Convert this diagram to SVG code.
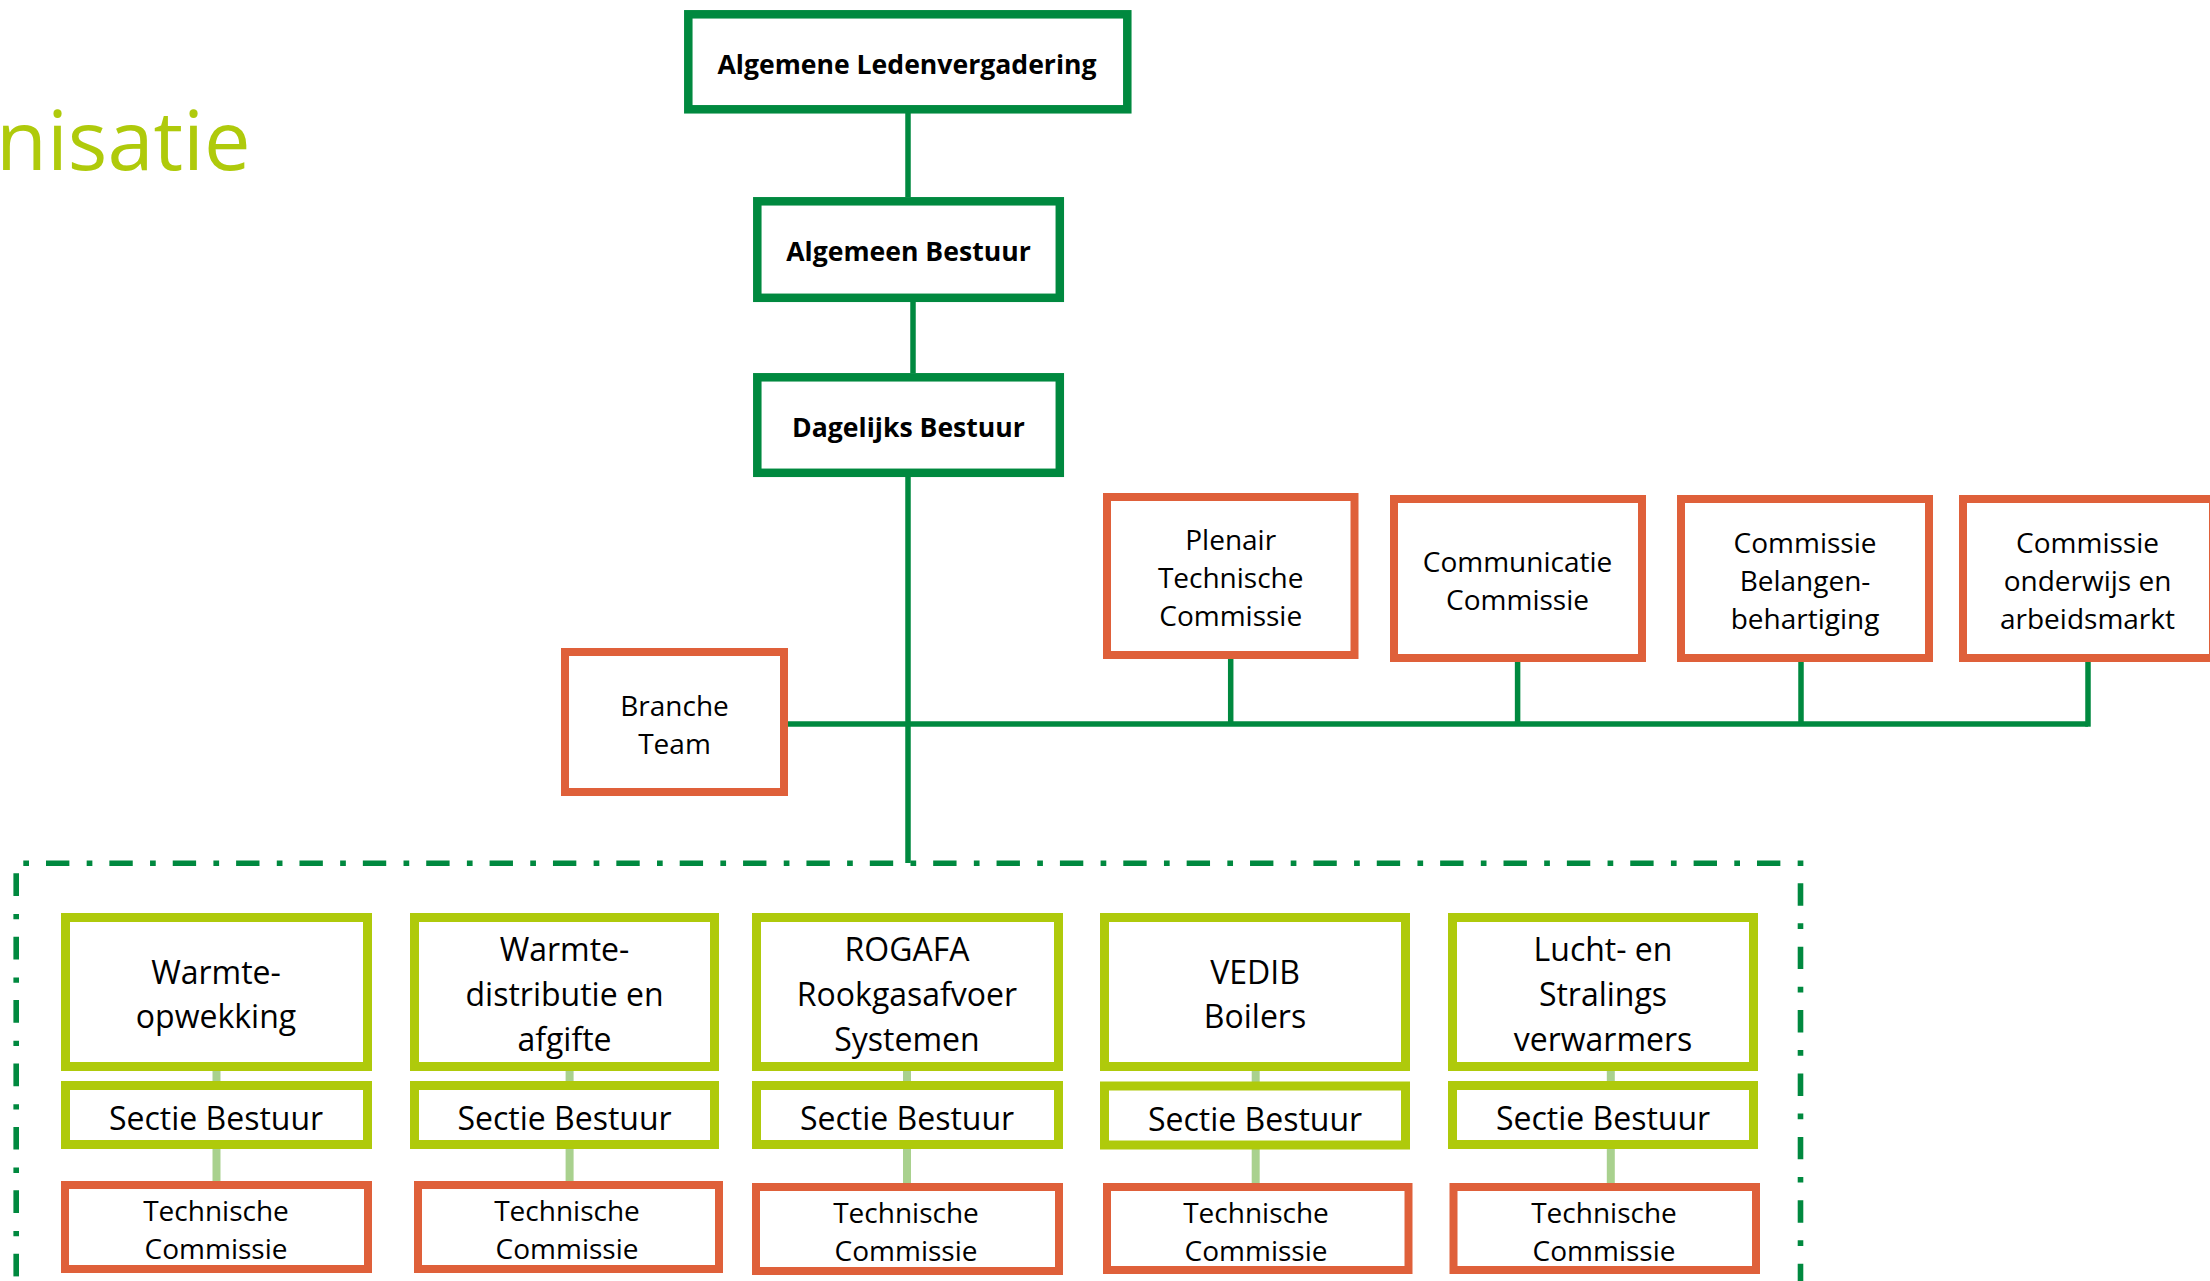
<svg xmlns="http://www.w3.org/2000/svg" width="2210" height="1281" viewBox="0 0 2210 1281">
<style>
  .dg{fill:#fff;stroke:#00893F;stroke-width:8.5}
  .or{fill:#fff;stroke:#DF603A;stroke-width:8}
  .lm{fill:#fff;stroke:#AFCA0B;stroke-width:9}
  .conn{stroke:#00893F;stroke-width:5.5;fill:none}
  .lconn{stroke:#A9D18E;stroke-width:8;fill:none}
  .dash{stroke:#00893F;stroke-width:5.6;fill:none}
  text{font-family:"Open Sans","Liberation Sans",sans-serif;fill:#000;text-anchor:middle}
  .b{font-weight:bold;font-size:26.6px}
  .t28{font-size:28px}
  .t32{font-size:32px}
  .title{fill:#AFCA0B;font-size:83px;text-anchor:start}
</style>
<rect width="2210" height="1281" fill="#fff"/>
<text class="title" x="-4" y="170">nisatie</text>

<g id="connectors">
  <line class="conn" x1="908" y1="113" x2="908" y2="197"/>
  <line class="conn" x1="913" y1="302" x2="913" y2="373"/>
  <line class="conn" x1="908" y1="477" x2="908" y2="863"/>
  <polyline class="conn" points="788,724 2088,724"/>
  <line class="conn" x1="1230.7" y1="659" x2="1230.7" y2="724"/>
  <line class="conn" x1="1517.6" y1="662" x2="1517.6" y2="724"/>
  <line class="conn" x1="1801" y1="662" x2="1801" y2="724"/>
  <line class="conn" x1="2088" y1="656" x2="2088" y2="726.7"/>
  <line class="lconn" x1="216.5" y1="1070" x2="216.5" y2="1082"/>
  <line class="lconn" x1="216.5" y1="1149" x2="216.5" y2="1182"/>
  <line class="lconn" x1="569.6" y1="1070" x2="569.6" y2="1082"/>
  <line class="lconn" x1="569.6" y1="1149" x2="569.6" y2="1182"/>
  <line class="lconn" x1="907" y1="1070" x2="907" y2="1082"/>
  <line class="lconn" x1="907" y1="1149" x2="907" y2="1184"/>
  <line class="lconn" x1="1255.7" y1="1071" x2="1255.7" y2="1082"/>
  <line class="lconn" x1="1255.7" y1="1149" x2="1255.7" y2="1184"/>
  <line class="lconn" x1="1610.8" y1="1071" x2="1610.8" y2="1082"/>
  <line class="lconn" x1="1610.8" y1="1149" x2="1610.8" y2="1184"/>
</g>

<g id="sections-frame">
  <line class="dash" x1="23.3" y1="863.3" x2="1803.4" y2="863.3" stroke-dasharray="5.7 17 23.37 17.3"/>
  <line class="dash" x1="16.2" y1="873.3" x2="16.2" y2="1290" stroke-dasharray="22.7 18 5.3 17.4"/>
  <line class="dash" x1="1800.5" y1="883.3" x2="1800.5" y2="1290" stroke-dasharray="22.4 17.6 5.7 17.7"/>
</g>

<g id="algemene-ledenvergadering">
  <rect class="dg" x="688.3" y="14.3" width="439" height="95"/>
  <text class="b" x="907" y="73.5">Algemene Ledenvergadering</text>
</g>
<g id="algemeen-bestuur">
  <rect class="dg" x="757.3" y="201.3" width="302.5" height="96.5"/>
  <text class="b" x="908.5" y="260.5">Algemeen Bestuur</text>
</g>
<g id="dagelijks-bestuur">
  <rect class="dg" x="757.3" y="377.3" width="302.5" height="95.5"/>
  <text class="b" x="908.5" y="436.5">Dagelijks Bestuur</text>
</g>

<g id="branche-team">
  <rect class="or" x="565" y="652" width="219" height="140"/>
  <text class="t28" x="674.5" y="715.5">Branche</text>
  <text class="t28" x="674.5" y="753.5">Team</text>
</g>
<g id="plenair-technische-commissie">
  <rect class="or" x="1107" y="497" width="247.5" height="158"/>
  <text class="t28" x="1230.7" y="549.5">Plenair</text>
  <text class="t28" x="1230.7" y="587.5">Technische</text>
  <text class="t28" x="1230.7" y="625.5">Commissie</text>
</g>
<g id="communicatie-commissie">
  <rect class="or" x="1394" y="499" width="248" height="159"/>
  <text class="t28" x="1517.5" y="571.5">Communicatie</text>
  <text class="t28" x="1517.5" y="609.5">Commissie</text>
</g>
<g id="commissie-belangenbehartiging">
  <rect class="or" x="1681" y="499" width="248" height="159"/>
  <text class="t28" x="1805" y="552.5">Commissie</text>
  <text class="t28" x="1805" y="590.5">Belangen-</text>
  <text class="t28" x="1805" y="628.5">behartiging</text>
</g>
<g id="commissie-onderwijs">
  <rect class="or" x="1963" y="499" width="250" height="159"/>
  <text class="t28" x="2087.5" y="553">Commissie</text>
  <text class="t28" x="2087.5" y="591">onderwijs en</text>
  <text class="t28" x="2087.5" y="629">arbeidsmarkt</text>
</g>

<g id="warmte-opwekking">
  <rect class="lm" x="65.5" y="917.5" width="302" height="149"/>
  <text class="t32" x="216" y="983.5">Warmte-</text>
  <text class="t32" x="216" y="1027.5">opwekking</text>
</g>
<g id="warmte-distributie">
  <rect class="lm" x="414.5" y="917.5" width="300" height="149"/>
  <text class="t32" x="564.5" y="960.5">Warmte-</text>
  <text class="t32" x="564.5" y="1005.5">distributie en</text>
  <text class="t32" x="564.5" y="1050.5">afgifte</text>
</g>
<g id="rogafa">
  <rect class="lm" x="756.5" y="917.5" width="302" height="149"/>
  <text class="t32" x="907" y="960.5">ROGAFA</text>
  <text class="t32" x="907" y="1005.5">Rookgasafvoer</text>
  <text class="t32" x="907" y="1050.5">Systemen</text>
</g>
<g id="vedib">
  <rect class="lm" x="1104.5" y="917.5" width="301" height="149"/>
  <text class="t32" x="1255" y="983.5">VEDIB</text>
  <text class="t32" x="1255" y="1027.5">Boilers</text>
</g>
<g id="lucht-en-stralingsverwarmers">
  <rect class="lm" x="1452.5" y="917.5" width="301" height="149"/>
  <text class="t32" x="1603" y="960.5">Lucht- en</text>
  <text class="t32" x="1603" y="1005.5">Stralings</text>
  <text class="t32" x="1603" y="1050.5">verwarmers</text>
</g>

<g id="sectie-bestuur-1">
  <rect class="lm" x="65.5" y="1085.5" width="302" height="59"/>
  <text class="t32" x="216" y="1129.5">Sectie Bestuur</text>
</g>
<g id="sectie-bestuur-2">
  <rect class="lm" x="414.5" y="1085.5" width="300" height="59"/>
  <text class="t32" x="564.5" y="1129.5">Sectie Bestuur</text>
</g>
<g id="sectie-bestuur-3">
  <rect class="lm" x="756.5" y="1085.5" width="302" height="59"/>
  <text class="t32" x="907" y="1129.5">Sectie Bestuur</text>
</g>
<g id="sectie-bestuur-4">
  <rect class="lm" x="1104.5" y="1086" width="301" height="59"/>
  <text class="t32" x="1255" y="1130.5">Sectie Bestuur</text>
</g>
<g id="sectie-bestuur-5">
  <rect class="lm" x="1452.5" y="1085.5" width="301" height="59"/>
  <text class="t32" x="1603" y="1129.5">Sectie Bestuur</text>
</g>

<g id="technische-commissie-1">
  <rect class="or" x="65" y="1185" width="303" height="84"/>
  <text class="t28" x="216" y="1220.5">Technische</text>
  <text class="t28" x="216" y="1258.5">Commissie</text>
</g>
<g id="technische-commissie-2">
  <rect class="or" x="418" y="1185" width="301" height="84"/>
  <text class="t28" x="567" y="1220.5">Technische</text>
  <text class="t28" x="567" y="1258.5">Commissie</text>
</g>
<g id="technische-commissie-3">
  <rect class="or" x="756" y="1187" width="303" height="84"/>
  <text class="t28" x="906" y="1222.5">Technische</text>
  <text class="t28" x="906" y="1260.5">Commissie</text>
</g>
<g id="technische-commissie-4">
  <rect class="or" x="1107" y="1187" width="301.5" height="83"/>
  <text class="t28" x="1256" y="1222.5">Technische</text>
  <text class="t28" x="1256" y="1260.5">Commissie</text>
</g>
<g id="technische-commissie-5">
  <rect class="or" x="1453.5" y="1187" width="302.5" height="83"/>
  <text class="t28" x="1604" y="1222.5">Technische</text>
  <text class="t28" x="1604" y="1260.5">Commissie</text>
</g>
</svg>
